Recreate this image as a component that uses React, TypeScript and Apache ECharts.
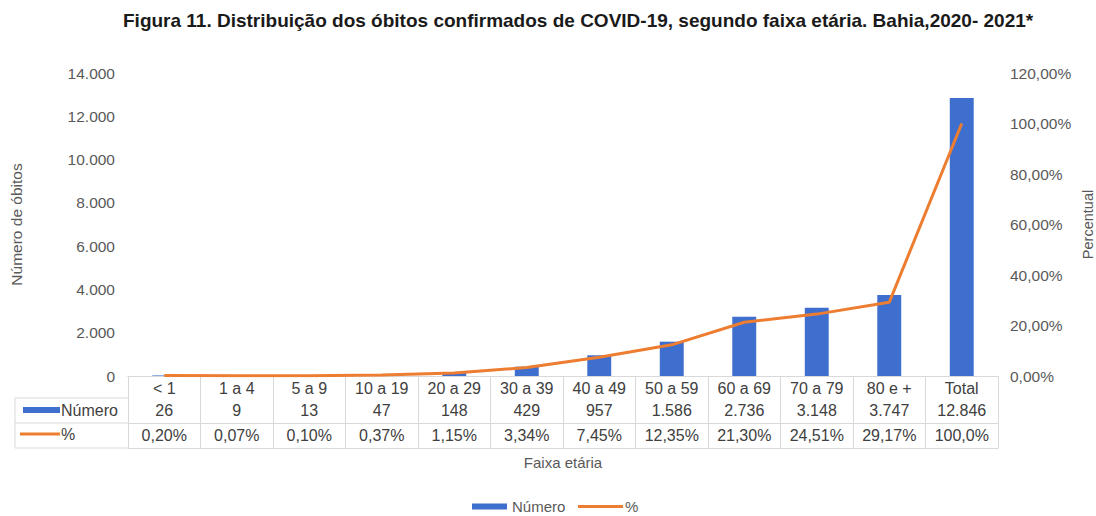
import React, { useEffect, useRef } from "react";
import * as echarts from "echarts";

const categories = ["< 1", "1 a 4", "5 a 9", "10 a 19", "20 a 29", "30 a 39", "40 a 49", "50 a 59", "60 a 69", "70 a 79", "80 e +", "Total"];
const numero = [26, 9, 13, 47, 148, 429, 957, 1586, 2736, 3148, 3747, 12846];
const percentual = [0.2, 0.07, 0.1, 0.37, 1.15, 3.34, 7.45, 12.35, 21.3, 24.51, 29.17, 100.0];

const titleText = "Figura 11. Distribuição dos óbitos confirmados de COVID-19, segundo faixa etária. Bahia,2020- 2021*";

const FONT = "'Liberation Sans', Arial, sans-serif";
const TEXT = "#595959";
const TABLE_TEXT = "#404040";
const BORDER = "#d9d9d9";
const BLUE = "#3F6FCE";
const ORANGE = "#ED7D31";

const fmtThousands = (v: number) => String(Math.round(v)).replace(/\B(?=(\d{3})+(?!\d))/g, ".");
const fmtPct = (v: number) => (v >= 100 ? v.toFixed(1) : v.toFixed(2)).replace(".", ",") + "%";
const fmtAxisPct = (v: number) => v.toFixed(2).replace(".", ",") + "%";

export default function App() {
  const ref = useRef<HTMLDivElement>(null);
  useEffect(() => {
    if (!ref.current) return;
    const chart = echarts.init(ref.current, undefined, { renderer: "svg" });
    const gridLeft = 128;
    const gridRight = 98;
    const gridTop = 73;
    const gridBottom = 140;
    const axisY = 516 - gridBottom;
    const rowH = 24;
    const tableFont = 16;

    const baseX = {
      type: "category" as const,
      gridIndex: 0,
      position: "bottom" as const,
      boundaryGap: true,
      axisTick: { show: false },
      axisLine: { show: true, lineStyle: { color: BORDER, width: 1 } },
      axisLabel: { color: TABLE_TEXT, fontFamily: FONT, fontSize: tableFont, interval: 0, margin: 4 },
      splitLine: { show: false },
    };

    chart.setOption({
      animation: false,
      backgroundColor: "#ffffff",
      textStyle: { fontFamily: FONT },
      title: {
        text: titleText,
        left: 118,
        top: 6,
        textStyle: { fontFamily: FONT, fontSize: 19, fontWeight: "bold", color: "#1a1a1a" },
      },
      legend: [
        {
          left: 472,
          top: 499,
          padding: 0,
          itemWidth: 35,
          itemHeight: 6,
          textStyle: { color: TEXT, fontFamily: FONT, fontSize: 15 },
          data: [{ name: "Número", icon: "rect" }],
        },
        {
          left: 578,
          top: 499,
          padding: 0,
          itemWidth: 45,
          itemHeight: 3,
          textStyle: { color: TEXT, fontFamily: FONT, fontSize: 15, padding: [0, 0, 0, -3] },
          data: [{ name: "%", icon: "rect" }],
        },
      ],
      grid: {
        left: gridLeft,
        right: gridRight,
        top: gridTop,
        bottom: gridBottom,
        containLabel: false,
        outerBoundsMode: "none",
      },
      xAxis: [
        {
          ...baseX,
          data: categories,
          axisTick: { show: true, interval: 0, length: rowH * 3, lineStyle: { color: BORDER } },
        },
        {
          ...baseX,
          offset: rowH - 2,
          data: numero.map(fmtThousands),
        },
        {
          ...baseX,
          offset: rowH * 2 - 1,
          data: percentual.map(fmtPct),
        },
        {
          ...baseX,
          offset: rowH * 3,
          data: categories,
          axisLabel: { show: false },
          name: "Faixa etária",
          nameLocation: "middle",
          nameGap: 7,
          nameMoveOverlap: false,
          nameTextStyle: { color: TEXT, fontFamily: FONT, fontSize: 15, verticalAlign: "top" },
        },
      ],
      yAxis: [
        {
          type: "value",
          min: 0,
          max: 14000,
          interval: 2000,
          axisLine: { show: false },
          axisTick: { show: false },
          splitLine: { show: false },
          axisLabel: { color: TEXT, fontFamily: FONT, fontSize: 15.5, margin: 13, formatter: fmtThousands },
          name: "Número de óbitos",
          nameLocation: "middle",
          nameRotate: 90,
          nameGap: 104,
          nameMoveOverlap: false,
          nameTextStyle: { color: TEXT, fontFamily: FONT, fontSize: 15.5 },
        },
        {
          type: "value",
          min: 0,
          max: 120,
          interval: 20,
          position: "right",
          axisLine: { show: false },
          axisTick: { show: false },
          splitLine: { show: false },
          axisLabel: { color: TEXT, fontFamily: FONT, fontSize: 15.5, margin: 12, formatter: fmtAxisPct },
          name: "Percentual",
          nameLocation: "middle",
          nameRotate: 90,
          nameGap: 82,
          nameMoveOverlap: false,
          nameTextStyle: { color: TEXT, fontFamily: FONT, fontSize: 14.5 },
        },
      ],
      series: [
        {
          name: "Número",
          type: "bar",
          xAxisIndex: 0,
          yAxisIndex: 0,
          data: numero,
          barWidth: "33%",
          itemStyle: { color: BLUE },
          z: 2,
        },
        {
          name: "%",
          type: "line",
          xAxisIndex: 0,
          yAxisIndex: 1,
          data: percentual,
          symbol: "none",
          lineStyle: { color: ORANGE, width: 3 },
          itemStyle: { color: ORANGE },
          z: 3,
        },
      ],
      graphic: [
        // label column borders of the data table
        { type: "line", shape: { x1: 15, y1: axisY + rowH - 2, x2: gridLeft, y2: axisY + rowH - 2 }, style: { stroke: BORDER, lineWidth: 1 } },
        { type: "line", shape: { x1: 15, y1: axisY + rowH * 2 - 1, x2: gridLeft, y2: axisY + rowH * 2 - 1 }, style: { stroke: BORDER, lineWidth: 1 } },
        { type: "line", shape: { x1: 15, y1: axisY + rowH * 3, x2: gridLeft, y2: axisY + rowH * 3 }, style: { stroke: BORDER, lineWidth: 1 } },
        { type: "line", shape: { x1: 15, y1: axisY + rowH - 2, x2: 15, y2: axisY + rowH * 3 }, style: { stroke: BORDER, lineWidth: 1 } },
        // row keys
        { type: "rect", shape: { x: 23, y: axisY + 31, width: 37, height: 6 }, style: { fill: BLUE } },
        { type: "line", shape: { x1: 20, y1: axisY + 58, x2: 60, y2: axisY + 58 }, style: { stroke: ORANGE, lineWidth: 3 } },
        { type: "text", x: 61, y: axisY + 34, style: { text: "Número", fill: TABLE_TEXT, font: `${tableFont}px ${FONT}`, verticalAlign: "middle" } },
        { type: "text", x: 61, y: axisY + 58, style: { text: "%", fill: TABLE_TEXT, font: `${tableFont}px ${FONT}`, verticalAlign: "middle" } },
      ],
    });
    return () => chart.dispose();
  }, []);
  return <div ref={ref} style={{ position: "absolute", left: 0, top: 0, width: 1096, height: 516 }} />;
}
